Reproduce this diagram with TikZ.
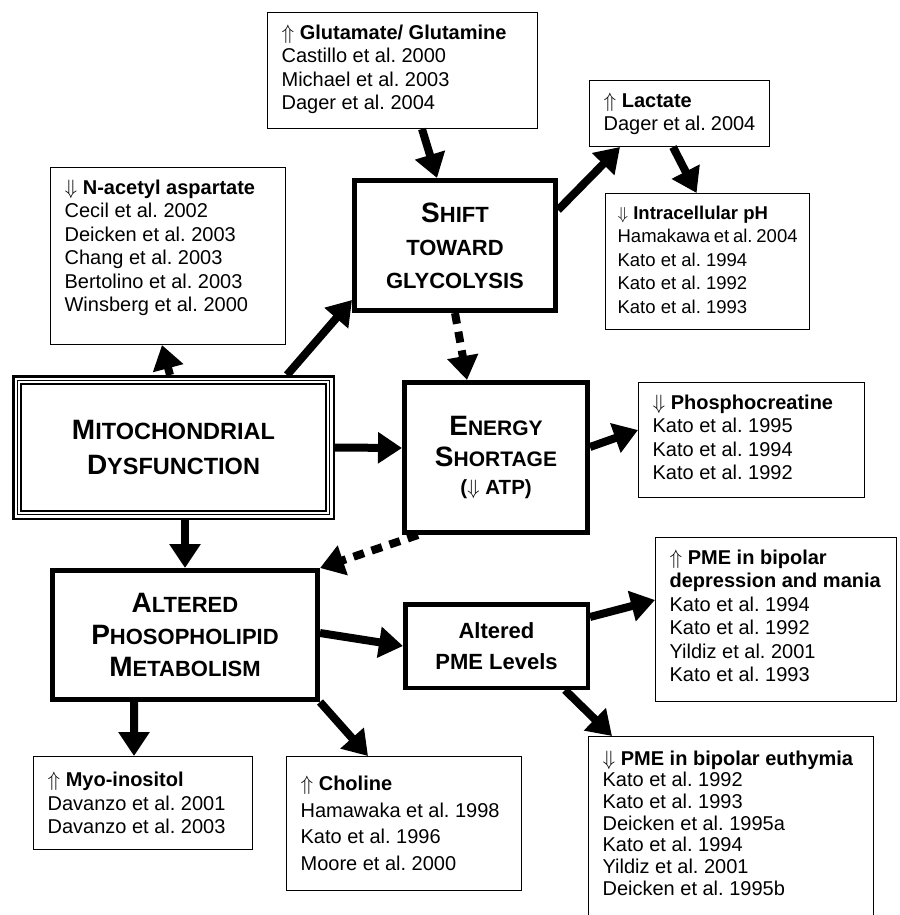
\documentclass[tikz,border=0pt]{standalone}
\usepackage{fontspec}
\setmainfont{Liberation Sans}
\usetikzlibrary{arrows.meta}
\frenchspacing
\newcommand{\capfirst}[1]{{\fontsize{28}{30}\selectfont #1}}
\newcommand{\citefont}{\fontsize{20}{23.5}\selectfont}
\tikzset{
	main box/.style={draw, line width=5pt, align=center, inner sep=0pt},
	cite box/.style={draw, line width=1.2pt, anchor=north west, inner xsep=14pt, inner ysep=12pt, font=\citefont},
	big arrow/.style={line width=8pt, -{Triangle[length=24pt, width=30pt]}},
	dotted arrow/.style={big arrow, dash pattern=on 11pt off 8pt},
}
\begin{document}
\begin{tikzpicture}[x=1pt, y=-1pt]
\useasboundingbox (0,0) rectangle (899,915);

\node[main box, line width=2.5pt, minimum width=320.5pt, minimum height=142.5pt, font=\fontsize{23.5}{35}\selectfont\bfseries] (mito) at (173.5,447.5) {\capfirst{M}ITOCHONDRIAL\\\capfirst{D}YSFUNCTION};
\draw[line width=1.2pt] ([shift={(5.5pt,5.5pt)}]mito.south west) rectangle ([shift={(-5.5pt,-5.5pt)}]mito.north east);
\draw[line width=1.2pt] ([shift={(9pt,9pt)}]mito.south west) rectangle ([shift={(-9pt,-9pt)}]mito.north east);

\node[main box, minimum width=201pt, minimum height=130pt, font=\fontsize{22}{33}\selectfont\bfseries] (glyco) at (455,245.5) {\capfirst{S}HIFT\\TOWARD\\GLYCOLYSIS};
\node[main box, minimum width=183pt, minimum height=150pt, font=\fontsize{21}{31}\selectfont\bfseries] (energy) at (496,457.5) {\capfirst{E}NERGY\\\capfirst{S}HORTAGE\\[-3pt]{\fontsize{20.5}{24}\selectfont($\Downarrow$ ATP)}};
\node[main box, minimum width=265pt, minimum height=129pt, font=\fontsize{22}{32}\selectfont\bfseries] (apl) at (185,635) {\capfirst{A}LTERED\\\capfirst{P}HOSOPHOLIPID\\\capfirst{M}ETABOLISM};
\node[main box, line width=4.5pt, minimum width=182.5pt, minimum height=83.5pt, font=\fontsize{22}{31}\selectfont\bfseries] (pme) at (496.5,646) {Altered\\PME Levels};

\node[cite box] (glu) at (267,12) {\parbox[t][91.8pt][t]{241.8pt}{\textbf{$\Uparrow$ Glutamate/ Glutamine}\\Castillo et al. 2000\\Michael et al. 2003\\Dager et al. 2004}};
\node[cite box] (lac) at (589,80) {\parbox[t][41.8pt][t]{151.8pt}{\textbf{$\Uparrow$ Lactate}\\Dager et al. 2004}};
\node[cite box] (naa) at (50,167) {\parbox[t][152.8pt][t]{206.8pt}{\textbf{$\Downarrow$ N-acetyl aspartate}\\Cecil et al. 2002\\Deicken et al. 2003\\Chang et al. 2003\\Bertolino et al. 2003\\Winsberg et al. 2000}};
\node[cite box, inner xsep=12pt] (ph) at (605,193) {\parbox[t][111.8pt][t]{180pt}{\fontsize{18.5}{23.5}\selectfont\textbf{$\Downarrow$ Intracellular pH}\\Hamakawa et al. 2004\\Kato et al. 1994\\Kato et al. 1992\\Kato et al. 1993}};
\node[cite box] (pcr) at (638,382) {\parbox[t][90.8pt][t]{197.8pt}{\textbf{$\Downarrow$ Phosphocreatine}\\Kato et al. 1995\\Kato et al. 1994\\Kato et al. 1992}};
\node[cite box] (pmeup) at (655,537) {\parbox[t][139.8pt][t]{212.8pt}{\textbf{$\Uparrow$ PME in bipolar}\\\textbf{depression and mania}\\Kato et al. 1994\\Kato et al. 1992\\Yildiz et al. 2001\\Kato et al. 1993}};
\node[cite box, inner ysep=14pt] (pmedown) at (588,736) {\parbox[t][170.8pt][t]{256.8pt}{\fontsize{20}{21.7}\selectfont\textbf{$\Downarrow$ PME in bipolar euthymia}\\Kato et al. 1992\\Kato et al. 1993\\Deicken et al. 1995a\\Kato et al. 1994\\Yildiz et al. 2001\\Deicken et al. 1995b}};
\node[cite box, inner ysep=4pt] (myo) at (33,756) {\parbox[t][84.8pt][c]{190.8pt}{\textbf{$\Uparrow$ Myo-inositol}\\Davanzo et al. 2001\\Davanzo et al. 2003}};
\node[cite box, inner ysep=4pt] (chol) at (286,756) {\parbox[t][125.8pt][c]{206.8pt}{\fontsize{20}{26.5}\selectfont\textbf{$\Uparrow$ Choline}\\Hamawaka et al. 1998\\Kato et al. 1996\\Moore et al. 2000}};

\draw[big arrow] ([xshift=19.5pt]glu.south) -- ([xshift=-18pt]glyco.north);
\draw[big arrow] ([yshift=35.5pt]glyco.east) -- ([xshift=-59.5pt]lac.south);
\draw[big arrow] ([xshift=-6.5pt]lac.south) -- ([xshift=-11pt]ph.north);
\draw[big arrow] ([xshift=-3.5pt]mito.north) -- ([xshift=-6pt]naa.south);
\draw[big arrow] ([xshift=113.5pt]mito.north) -- ([yshift=-54.5pt]glyco.west);
\draw[dotted arrow] (glyco.south) -- ([xshift=-29pt]energy.north);
\draw[big arrow] (mito.east) -- ([yshift=9.5pt]energy.west);
\draw[big arrow] ([yshift=10.5pt]energy.east) -- ([yshift=10pt]pcr.west);
\draw[dotted arrow] ([xshift=16pt]energy.south west) -- (apl.north east);
\draw[big arrow] ([xshift=11.5pt]mito.south) -- (apl.north);
\draw[big arrow] ([yshift=2pt]apl.east) -- (pme.west);
\draw[big arrow] ([yshift=29pt]pme.east) -- ([yshift=19.5pt]pmeup.west);
\draw[big arrow] ([xshift=68.5pt]pme.south) -- ([xshift=24pt]pmedown.north west);
\draw[big arrow] ([xshift=-51pt]apl.south) -- ([xshift=-9pt]myo.north);
\draw[big arrow] (apl.south east) -- ([xshift=-36pt]chol.north);
\end{tikzpicture}
\end{document}
